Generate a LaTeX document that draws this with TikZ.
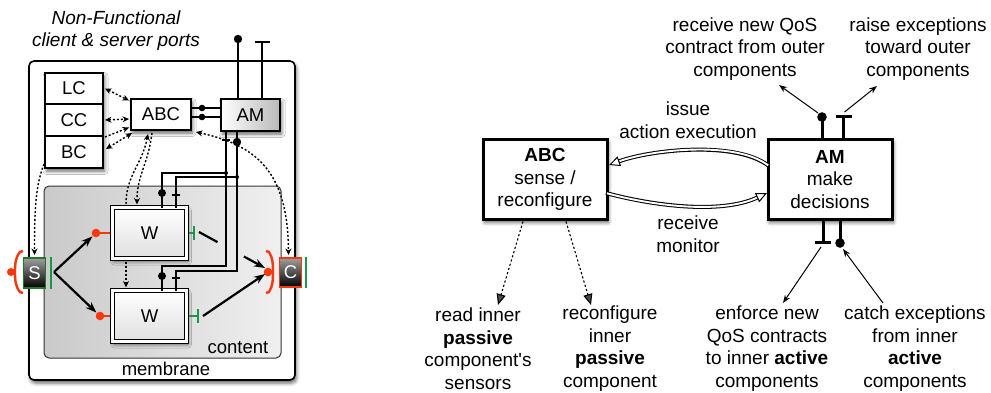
\documentclass[tikz,border=0pt]{standalone}
\usepackage{fontspec}
\setmainfont{Liberation Sans}
\usetikzlibrary{arrows.meta,shadows,shadows.blur,calc}
\definecolor{pred}{RGB}{250,55,10}
\definecolor{pgreen}{RGB}{25,150,70}
\definecolor{sgreen}{RGB}{30,120,40}
\tikzset{dtip/.tip={Stealth[length=6.5pt,width=6pt]}}
\begin{document}
\begin{tikzpicture}[x=1pt,y=-1pt,
  every node/.style={inner sep=0pt, outer sep=0pt},
  txt/.style={font=\fontsize{19}{22.5}\selectfont, align=center},
  lbl/.style={font=\fontsize{18.5}{21}\selectfont},
  shad/.style={blur shadow={shadow xshift=1.5pt, shadow yshift=-3pt, shadow blur radius=3.5pt, shadow opacity=60}},
  bigbox/.style={draw, line width=3pt, fill=white, minimum width=124pt, minimum height=80pt, txt, shad},
  smallbox/.style={draw, line width=2.6pt, fill=white, minimum width=60pt, minimum height=31pt, lbl, shad},
  ctlbox/.style={draw, line width=1.4pt, fill=white, minimum width=58pt, lbl},
  wbox/.style={draw, line width=1.3pt, double=white, double distance=2.8pt, top color=white, bottom color=gray!25, minimum width=74pt, minimum height=51pt, lbl, shad},
  portbox/.style={line width=1.4pt, top color=gray!75, bottom color=black, minimum width=22pt, minimum height=30pt, text=white, lbl},
  wire/.style={line width=2.6pt},
  thinw/.style={line width=1.3pt},
  dotl/.style={line width=1.4pt, dash pattern=on 2pt off 2pt},
  fat/.style={line width=2.2pt, -{Stealth[length=11pt,width=8pt]}},
  thinarr/.style={line width=1pt, -{Stealth[length=8pt,width=6pt]}},
  bigdot/.style={line width=1.1pt, dash pattern=on 2.2pt off 2.2pt, -{Triangle[length=11pt,width=9pt]}},
]
\useasboundingbox (0,0) rectangle (991,392);

% ================= LEFT DIAGRAM =================
\node[txt, font=\fontsize{19}{22}\selectfont\itshape] (nf) at (116,31) {Non-Functional\\client \& server ports};

\node[draw, line width=1.6pt, fill=white, rounded corners=5pt, minimum width=266pt, minimum height=319pt, shad] (mem) at (162,220.5) {};
\node[draw=black!80, line width=1pt, rounded corners=5pt, left color=gray!42, right color=gray!12, minimum width=237pt, minimum height=172pt] (cnt) at (162.5,272) {};
\node[lbl, anchor=base] (memlbl) at (166,375) {membrane};
\node[lbl, anchor=base] (cntlbl) at (238,353) {content};

% controllers stack
\fill[white, shad] (45,73) rectangle (103,168);
\node[ctlbox, minimum height=31pt] (lc) at (74,88.5) {LC};
\node[ctlbox, minimum height=32pt] (cc) at (74,120) {CC};
\node[ctlbox, minimum height=32pt] (bc) at (74,152) {BC};

\node[smallbox] (abc) at (161,114.5) {ABC};
\node[smallbox, minimum width=59pt, minimum height=32pt, left color=white, right color=gray!55] (am) at (250.5,115) {AM};

\node[wbox] (w1) at (149.5,233) {W};
\node[wbox] (w2) at (149.5,316) {W};

% AM external ports
\coordinate (amb) at (238,39);
\coordinate (amt) at (262,42);
\draw[wire] (amb) -- (amb |- am.north);
\fill (amb) circle (4.2pt);
\draw[wire] (amt) -- (amt |- am.north);
\draw[wire] ($(amt)+(-7.5,0)$) -- ($(amt)+(7.5,0)$);

% ABC - AM bindings
\foreach \yy in {108,117}{
  \draw[line width=1.6pt] (abc.east |- 0,\yy) -- (am.west |- 0,\yy);
  \fill (202,\yy) circle (3.3pt);
}

% AM internal ports and wires
\coordinate (amT) at (226,140);
\coordinate (amB) at (237,142);
\coordinate (j1) at (226,173);
\coordinate (j2) at (237,177);
\coordinate (w1b) at (162,193);
\coordinate (w1t) at (176,195);
\coordinate (w2b) at (162,276);
\coordinate (w2t) at (176,278);
\draw[thinw] (amT) -- (226,266) -| (w2b);
\draw[thinw] (amB) -- (237,271) -| (w2t);
\draw[thinw] (j1) -| (w1b);
\draw[thinw] (j2) -| (w1t);
\fill (j1) circle (2pt);
\fill (j2) circle (2pt);
\draw[wire] (amT |- am.south) -- (amT);
\draw[line width=2.2pt] ($(amT)+(-4,0)$) -- ($(amT)+(4,0)$);
\draw[wire] (amB |- am.south) -- (amB);
\fill (amB) circle (4.2pt);

% W control ports
\draw[wire] (w1b) -- (w1b |- w1.north); \fill (w1b) circle (4pt);
\draw[wire] (w1t) -- (w1t |- w1.north); \draw[line width=2.2pt] ($(w1t)+(-4,0)$) -- ($(w1t)+(4,0)$);
\draw[wire] (w2b) -- (w2b |- w2.north); \fill (w2b) circle (4pt);
\draw[wire] (w2t) -- (w2t |- w2.north); \draw[line width=2.2pt] ($(w2t)+(-4,0)$) -- ($(w2t)+(4,0)$);

% dotted arrows
\draw[dotl, dtip-dtip] ($(lc.east)+(2,0)$) -- ($(abc.west)+(-2,-14)$);
\draw[dotl, dtip-dtip] ($(cc.east)+(2,0)$) -- ($(abc.west)+(-2,4.5)$);
\draw[dotl, -dtip] ($(bc.north east)+(2,1)$) -- ($(abc.west)+(-2,13)$);
\draw[dotl, dtip-dtip] ($(bc.east)+(3,-3)$) -- ($(abc.south west)+(1,3)$);
\draw[dotl, dtip-] ($(abc.south)+(-13,4)$) .. controls (142,165) and (126,175) .. ($(w1.north)+(-23.5,-3)$);
\draw[dotl, -dtip] ($(abc.south)+(-9,3)$) .. controls (148,165) and (137,175) .. ($(w1.north)+(-12.5,-3)$);
\draw[dotl, -dtip] ($(w1.south)+(-23.5,3)$) -- ($(w2.north)+(-23.5,-3)$);

% S port
\node[portbox, draw=sgreen] (S) at (34.5,273) {S};
\draw[pred, line width=2.4pt] (23,251) -- (20,252) .. controls (15,258) and (15,265) .. (15,272) .. controls (15,279) and (15,286) .. (20,292) -- (23,293);
\coordinate (sball) at (11,272);
\draw[pred, line width=2.2pt] (sball) -- (15,272);
\fill[pred] (sball) circle (4pt);
\draw[pgreen, line width=2.8pt] (51,257) -- (51,289);

% C port
\node[portbox, draw=pred, minimum height=29pt] (C) at (290.5,272.5) {C};
\draw[pred, line width=2.4pt] (266,251) -- (269,252) .. controls (273,258) and (273,265) .. (273,272) .. controls (273,279) and (273,286) .. (269,292) -- (266,293);
\coordinate (cball) at (268,272);
\fill[pred] (cball) circle (4.3pt);
\draw[pgreen, line width=2.8pt] (306,257) -- (306,288);

\draw[dotl, -dtip] ($(bc.south west)+(-1,-4)$) .. controls (36,185) and (34.5,205) .. ($(S.north)+(0,-3)$);
\draw[dotl, dtip-dtip] ($(abc.south east)+(5,2)$) .. controls (255,145) and (288,170) .. ($(C.north)+(-2,-3)$);

% W functional ports
\coordinate (w1c) at (96,233);
\coordinate (w2c) at (100,316);
\draw[pred, line width=2.4pt] (w1c) -- ($(w1.west)+(-2.5,0)$); \fill[pred] (w1c) circle (4.3pt);
\draw[pred, line width=2.4pt] (w2c) -- ($(w2.west)+(-2.5,0)$); \fill[pred] (w2c) circle (4.3pt);
\coordinate (w1s) at (194,233);
\coordinate (w2s) at (198,316);
\draw[pgreen, line width=2.6pt] ($(w1.east)+(2.5,0)$) -- (w1s);
\draw[pgreen, line width=2.8pt] ($(w1s)+(0,-7)$) -- ($(w1s)+(0,7)$);
\draw[pgreen, line width=2.6pt] ($(w2.east)+(2.5,0)$) -- (w2s);
\draw[pgreen, line width=2.8pt] ($(w2s)+(0,-7)$) -- ($(w2s)+(0,7)$);

% functional bindings
\coordinate (sa) at (54,272);
\draw[fat, shorten >=5pt] (sa) -- (w1c);
\draw[fat, shorten >=5pt] (sa) -- (w2c);
\coordinate (a1) at (199,232);
\coordinate (a2) at (265,268);
\draw[line width=2.2pt] (a1) -- ($(a1)!0.28!(a2)$);
\draw[fat] ($(a1)!0.68!(a2)$) -- (a2);
\draw[fat] (203,316) -- (265,274);

% ================= RIGHT DIAGRAM =================
\node[bigbox] (rabc) at (545,179.5) {\textbf{ABC}\\sense /\\reconfigure};
\node[bigbox] (ram) at (830,179.5) {\textbf{AM}\\make\\decisions};

% hollow arrows
\coordinate (h1s) at (769,166);
\coordinate (h1e) at (609,165);
\draw[line width=4pt, shorten >=10.5pt] (h1s) .. controls (735,140) and (650,150) .. (h1e);
\draw[white, line width=1.9pt, shorten >=10.5pt, shorten <=1pt] (h1s) .. controls (735,140) and (650,150) .. (h1e);
\draw[line width=1pt, -{Triangle[open, length=11pt, width=10pt]}] ($(h1e)!11pt!(650,150)$) -- (h1e);

\coordinate (h2s) at (606,193);
\coordinate (h2e) at (767,193);
\draw[line width=4pt, shorten >=10.5pt] (h2s) .. controls (650,205) and (720,215) .. (h2e);
\draw[white, line width=1.9pt, shorten >=10.5pt, shorten <=1pt] (h2s) .. controls (650,205) and (720,215) .. (h2e);
\draw[line width=1pt, -{Triangle[open, length=11pt, width=10pt]}] ($(h2e)!11pt!(720,215)$) -- (h2e);

\node[txt] (iss) at (688,120) {issue\\action execution};
\node[txt] (rcv) at (688,234) {receive\\monitor};

% AM ports (right)
\coordinate (rb1) at (822,117);
\coordinate (rt1) at (843.5,116);
\draw[line width=3pt] (rb1) -- (rb1 |- ram.north); \fill (rb1) circle (4.8pt);
\draw[line width=3pt] (rt1) -- (rt1 |- ram.north);
\draw[line width=3pt] ($(rt1)+(-8,0)$) -- ($(rt1)+(8,0)$);
\coordinate (rt2) at (823,242);
\coordinate (rb2) at (840,243);
\draw[line width=3pt] (rt2) -- (rt2 |- ram.south);
\draw[line width=3pt] ($(rt2)+(-8,0)$) -- ($(rt2)+(8,0)$);
\draw[line width=3pt] (rb2) -- (rb2 |- ram.south); \fill (rb2) circle (4.8pt);

\node[txt] (tq) at (745,49) {receive new QoS\\contract from outer\\components};
\node[txt] (te) at (918,49) {raise exceptions\\toward outer\\components};
\draw[thinarr] ($(rb1)+(-4,-4)$) -- (779,85);
\draw[thinarr] ($(rt1)+(1,-4)$) -- (877,86);

\node[txt] (tr1) at (478,348.5) {read inner\\\textbf{passive}\\component\textquotesingle s\\sensors};
\node[txt] (tr2) at (610,348.5) {reconfigure\\inner\\\textbf{passive}\\component};
\node[txt] (tr3) at (767,348.5) {enforce new\\QoS contracts\\to inner \textbf{active}\\components};
\node[txt] (tr4) at (915,348.5) {catch exceptions\\from inner\\\textbf{active}\\components};

\draw[bigdot] ($(rabc.south)+(-22,2)$) -- (498,305);
\draw[bigdot] ($(rabc.south)+(21,2)$) -- (591,305);
\draw[thinarr] ($(rt2)+(-2,5)$) -- (783,303);
\draw[thinarr] (883,303) -- ($(rb2)+(3,6)$);
\end{tikzpicture}
\end{document}
